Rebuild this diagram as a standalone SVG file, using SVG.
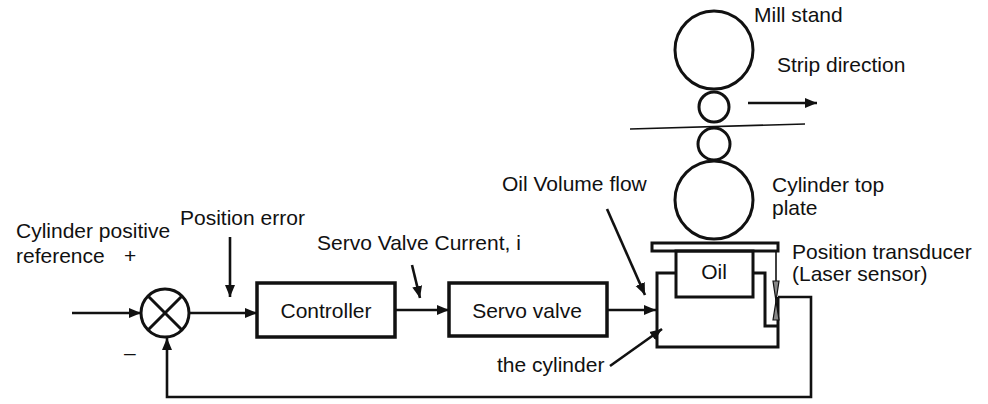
<svg xmlns="http://www.w3.org/2000/svg" width="988" height="404" viewBox="0 0 988 404">
  <style>
    text { font-family: "Liberation Sans", Arial, sans-serif; font-size: 21px; fill: #111; }
    .ln { fill: none; stroke: #111; stroke-width: 3; stroke-linejoin: miter; }
    .thin { fill: none; stroke: #111; stroke-width: 1.6; }
    .box { fill: #fff; stroke: #111; stroke-width: 3.5; }
    .arr { fill: none; stroke: #111; stroke-width: 2.6; marker-end: url(#ah); }
  </style>
  <defs>
    <marker id="ah" markerUnits="userSpaceOnUse" markerWidth="14" markerHeight="12" refX="12" refY="6" orient="auto">
      <path d="M0,1 L12,6 L0,11 Z" fill="#111"/>
    </marker>
  </defs>
  <rect width="988" height="404" fill="#fff"/>

  <!-- summing junction -->
  <g id="sum">
    <circle cx="165" cy="313" r="24" class="ln" stroke-width="3.5"/>
    <line x1="148" y1="296" x2="182" y2="330" class="ln"/>
    <line x1="182" y1="296" x2="148" y2="330" class="ln"/>
  </g>

  <g id="controller">
    <rect x="257" y="283" width="138" height="54" class="box"/>
    <text x="326" y="318" text-anchor="middle">Controller</text>
  </g>

  <g id="servo-valve">
    <rect x="449" y="283" width="158" height="53" class="box"/>
    <text x="527" y="318" text-anchor="middle">Servo valve</text>
  </g>

  <!-- mill stand: backup and work rolls with strip -->
  <g id="mill-stand">
    <circle cx="714" cy="50" r="39" class="ln"/>
    <circle cx="714" cy="107" r="15" class="ln"/>
    <circle cx="714" cy="144" r="16" class="ln"/>
    <circle cx="714" cy="200" r="39" class="ln"/>
    <line x1="630" y1="129" x2="805" y2="124" class="thin"/>
  </g>

  <!-- hydraulic cylinder with top plate and oil chamber -->
  <g id="cylinder">
    <rect x="652" y="243" width="126" height="8" class="ln" stroke-width="3.5"/>
    <rect x="676" y="251" width="77" height="46" class="ln" stroke-width="3.5"/>
    <text x="714" y="279" text-anchor="middle">Oil</text>
    <path d="M676,273 H657 V347 H778 V297" class="ln" stroke-width="3.5"/>
    <path d="M753,273 H765 V326 H778" class="ln" stroke-width="3.5"/>
  </g>

  <!-- position transducer -->
  <g id="transducer">
    <line x1="776" y1="251" x2="776" y2="320" class="thin" stroke-width="1.2"/>
    <path d="M773,281 L779,281 L776,301 Z M773,320 L779,320 L776,301 Z" fill="#888" stroke="#111" stroke-width="1.2"/>
  </g>

  <!-- signal paths -->
  <g id="connectors">
    <line x1="72" y1="313" x2="141" y2="313" class="arr"/>
    <line x1="189" y1="313" x2="257" y2="313" class="arr"/>
    <line x1="395" y1="310" x2="449" y2="310" class="arr"/>
    <line x1="607" y1="310" x2="656" y2="310" class="arr"/>
    <polyline points="778,297 811,297 811,397 167,397 167,338" class="arr"/>
    <line x1="748" y1="103" x2="817" y2="103" class="arr"/>
  </g>

  <!-- annotation pointers -->
  <g id="pointers">
    <line x1="230" y1="237" x2="230" y2="297" class="arr"/>
    <line x1="412" y1="265" x2="420" y2="298" class="arr"/>
    <line x1="607" y1="209" x2="645" y2="295" class="arr"/>
    <line x1="610" y1="366" x2="662" y2="329" class="arr"/>
  </g>

  <g id="labels">
    <text x="16" y="238">Cylinder positive</text>
    <text x="16" y="263">reference</text>
    <text x="124" y="263">+</text>
    <text x="124" y="360">–</text>
    <text x="180" y="225">Position error</text>
    <text x="317" y="250">Servo Valve Current, i</text>
    <text x="502" y="191">Oil Volume flow</text>
    <text x="497" y="372">the cylinder</text>
    <text x="754" y="22">Mill stand</text>
    <text x="777" y="72">Strip direction</text>
    <text x="772" y="192">Cylinder top</text>
    <text x="772" y="215">plate</text>
    <text x="792" y="259">Position transducer</text>
    <text x="792" y="281">(Laser sensor)</text>
  </g>
</svg>
